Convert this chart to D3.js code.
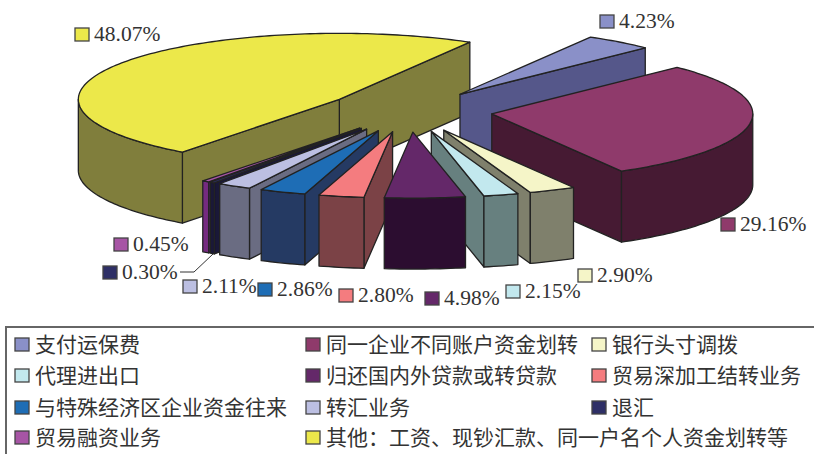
<!DOCTYPE html>
<html>
<head>
<meta charset="utf-8">
<script src="https://cdn.jsdelivr.net/npm/d3@7/dist/d3.min.js"></script>
<style>
  body { margin: 0; background: #fff; }
  .pct { font-family: "Liberation Serif", serif; font-size: 21.5px; fill: #333; }
  .name { font-family: "Noto Sans CJK SC", sans-serif; font-size: 21px; fill: #333; }
</style>
</head>
<body>
<div id="vis"></div>
<script>
// chart data, in pie order (clockwise from the 4.23% slice)
var names = ["支付运保费", "同一企业不同账户资金划转", "银行头寸调拨", "代理进出口", "归还国内外贷款或转贷款",
             "贸易深加工结转业务", "与特殊经济区企业资金往来", "转汇业务", "退汇", "贸易融资业务",
             "其他：工资、现钞汇款、同一户名个人资金划转等"];
var values = [4.23, 29.16, 2.90, 2.15, 4.98, 2.80, 2.86, 2.11, 0.30, 0.45, 48.07];
var topColors = ["#8a90c8", "#8f3a6b", "#f5f5c8", "#c2e8ee", "#642869", "#f47c7f",
                 "#1e6db5", "#bcbfe2", "#2e2f66", "#a755a5", "#ece84a"];
var sideColors = ["#55578a", "#461a33", "#7f806c", "#67807f", "#2c0d30", "#7b4246",
                  "#253a63", "#6a6c82", "#1a1838", "#752a80", "#807e3c"];

// layout
var width = 814, height = 454;
var centerX = 409, centerY = 111, radiusX = 261, radiusY = 66, depth = 71, explode = 0.32;
var firstAngle = 30; // degrees clockwise from 12 o'clock

// back to front, the slices do not follow pie order when painted
var paintOrder = [10, 0, 1, 9, 8, 7, 6, 5, 2, 3, 4];

// swatch corner of each percent label, same order as values
var labelSpots = [[600, 15], [721, 218], [578, 269], [506, 285], [425, 292], [339, 289],
                  [258, 283], [183, 280], [103, 266], [114, 238], [75, 28]];

// legend is read left to right, row by row
var legendCols = [15, 306, 592];
var legendRows = [345, 376, 408, 438];
var legendSlots = [[0, 0], [1, 0], [2, 0], [0, 1], [1, 1], [2, 1], [0, 2], [1, 2], [2, 2], [0, 3], [1, 3]];

var svg = d3.select("#vis").append("svg")
    .attr("width", width)
    .attr("height", height);

var x = d3.scaleLinear().domain([-1, 1]).range([-radiusX, radiusX]);
var y = d3.scaleLinear().domain([-1, 1]).range([-radiusY, radiusY]);

var pie = d3.pie()
    .sort(null)
    .startAngle(firstAngle * Math.PI / 180)
    .endAngle((firstAngle + 360) * Math.PI / 180);

// pie angles start at 12 o'clock, the screen ones at 3 o'clock
var slices = pie(values).map(function(d) {
  var t0 = d.startAngle - Math.PI / 2,
      t1 = d.endAngle - Math.PI / 2,
      mid = (t0 + t1) / 2;
  d.t0 = t0;
  d.t1 = t1;
  d.ax = centerX + explode * x(Math.cos(mid));
  d.ay = centerY + explode * y(Math.sin(mid));
  return d;
});

var line = d3.line();

function rimPoint(d, t, drop) {
  return [d.ax + x(Math.cos(t)), d.ay + y(Math.sin(t)) + drop];
}

function arcPoints(d, from, to, drop) {
  var n = Math.max(2, Math.ceil((to - from) / 0.02));
  return d3.range(n + 1).map(function(i) {
    return rimPoint(d, from + (to - from) * i / n, drop);
  });
}

function radialFace(d, t) {
  var p = rimPoint(d, t, 0);
  return [[d.ax, d.ay], p, [p[0], p[1] + depth], [d.ax, d.ay + depth]];
}

var pieG = svg.append("g")
    .attr("stroke", "#222")
    .attr("stroke-width", 1.3)
    .attr("stroke-linejoin", "round");

paintOrder.forEach(function(i) {
  var d = slices[i],
      g = pieG.append("g");

  // cut faces, only the ones turned to the viewer
  if (Math.cos(d.t1) > 0) {
    g.append("path").attr("d", line(radialFace(d, d.t1)) + "Z").attr("fill", sideColors[i]);
  }
  if (Math.cos(d.t0) < 0) {
    g.append("path").attr("d", line(radialFace(d, d.t0)) + "Z").attr("fill", sideColors[i]);
  }

  // outer wall, front half of the ellipse only
  var from = Math.max(d.t0, 0),
      to = Math.min(d.t1, Math.PI);
  if (to > from) {
    var wall = arcPoints(d, from, to, 0).concat(arcPoints(d, from, to, depth).reverse());
    g.append("path").attr("d", line(wall) + "Z").attr("fill", sideColors[i]);
  }

  // top
  var top = [[d.ax, d.ay]].concat(arcPoints(d, d.t0, d.t1, 0));
  g.append("path").attr("d", line(top) + "Z").attr("fill", topColors[i]);
});

// percent labels
var labels = svg.append("g").selectAll("g")
    .data(values)
    .enter().append("g")
    .attr("transform", function(d, i) { return "translate(" + labelSpots[i] + ")"; });

labels.append("rect")
    .attr("width", 14)
    .attr("height", 13)
    .attr("fill", function(d, i) { return topColors[i]; })
    .attr("stroke", "#444")
    .attr("stroke-width", 1.3);

labels.append("text")
    .attr("class", "pct")
    .attr("x", 19)
    .attr("y", 13)
    .text(function(d) { return d.toFixed(2) + "%"; });

// leader line of the 0.30% label
svg.append("path")
    .attr("d", line([[180, 272], [194, 272], [213, 254]]))
    .attr("fill", "none")
    .attr("stroke", "#333")
    .attr("stroke-width", 1);

// legend box runs off the right and bottom of the picture
svg.append("rect")
    .attr("x", 6)
    .attr("y", 327)
    .attr("width", width)
    .attr("height", height)
    .attr("fill", "none")
    .attr("stroke", "#666")
    .attr("stroke-width", 2);

var legend = svg.append("g").selectAll("g")
    .data(names)
    .enter().append("g")
    .attr("transform", function(d, i) {
      return "translate(" + legendCols[legendSlots[i][0]] + "," + legendRows[legendSlots[i][1]] + ")";
    });

legend.append("rect")
    .attr("y", -7)
    .attr("width", 14)
    .attr("height", 13)
    .attr("fill", function(d, i) { return topColors[i]; })
    .attr("stroke", "#444")
    .attr("stroke-width", 1.3);

legend.append("text")
    .attr("class", "name")
    .attr("x", 20)
    .attr("y", 7)
    .text(function(d) { return d; });
</script>
</body>
</html>
